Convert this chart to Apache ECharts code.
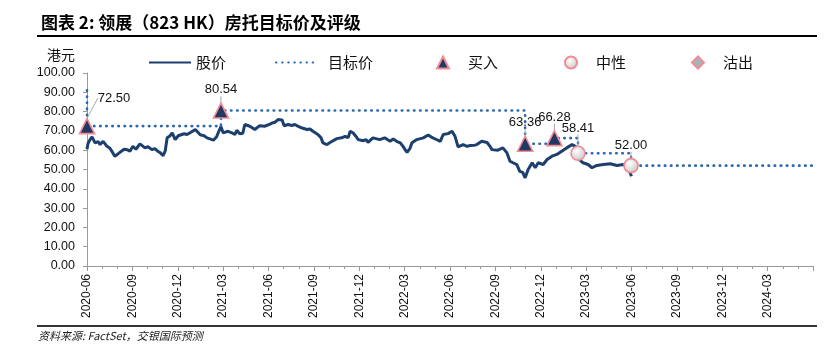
<!DOCTYPE html>
<html>
<head>
<meta charset="utf-8">
<script src="https://cdn.jsdelivr.net/npm/echarts@6/dist/echarts.min.js"></script>
<style>
html,body{margin:0;padding:0;background:#fff;}
#c{width:824px;height:355px;}
</style>
</head>
<body>
<div id="c"></div>
<script>
// ---- data ----
const tickLabels = ['2020-06','2020-09','2020-12','2021-03','2021-06','2021-09','2021-12','2022-03','2022-06','2022-09','2022-12','2023-03','2023-06','2023-09','2023-12','2024-03','2024-06'];

const priceDates = ['2020-06-01','2020-06-03','2020-06-07','2020-06-11','2020-06-17','2020-06-23','2020-06-27','2020-07-03','2020-07-11','2020-07-17','2020-07-23','2020-07-27','2020-08-03','2020-08-07','2020-08-15','2020-08-21','2020-08-27','2020-09-02','2020-09-08','2020-09-16','2020-09-26','2020-10-02','2020-10-10','2020-10-16','2020-10-22','2020-10-28','2020-11-02','2020-11-06','2020-11-10','2020-11-16','2020-11-20','2020-11-26','2020-12-02','2020-12-06','2020-12-14','2020-12-20','2020-12-28','2021-01-06','2021-01-16','2021-01-24','2021-01-30','2021-02-11','2021-02-17','2021-02-21','2021-02-25','2021-03-01','2021-03-11','2021-03-19','2021-03-25','2021-03-29','2021-04-04','2021-04-10','2021-04-14','2021-04-24','2021-05-04','2021-05-14','2021-05-24','2021-06-04','2021-06-08','2021-06-14','2021-06-20','2021-06-28','2021-07-02','2021-07-10','2021-07-18','2021-07-24','2021-07-30','2021-08-08','2021-08-18','2021-08-24','2021-08-30','2021-09-09','2021-09-15','2021-09-19','2021-09-27','2021-10-03','2021-10-07','2021-10-17','2021-10-27','2021-11-03','2021-11-09','2021-11-13','2021-11-19','2021-11-25','2021-11-29','2021-12-09','2021-12-15','2021-12-19','2021-12-29','2022-01-02','2022-01-12','2022-01-22','2022-02-02','2022-02-08','2022-02-15','2022-02-21','2022-02-26','2022-03-02','2022-03-06','2022-03-12','2022-03-16','2022-03-26','2022-04-08','2022-04-18','2022-04-26','2022-05-02','2022-05-12','2022-05-18','2022-05-28','2022-06-05','2022-06-11','2022-06-17','2022-06-27','2022-07-05','2022-07-11','2022-07-19','2022-07-25','2022-08-04','2022-08-15','2022-08-21','2022-08-25','2022-09-06','2022-09-16','2022-09-24','2022-09-30','2022-10-06','2022-10-14','2022-10-20','2022-10-26','2022-10-31','2022-11-06','2022-11-14','2022-11-20','2022-11-26','2022-12-06','2022-12-14','2022-12-24','2023-01-03','2023-01-13','2023-01-23','2023-02-03','2023-02-09','2023-02-14','2023-02-16','2023-02-23','2023-03-05','2023-03-13','2023-03-23','2023-04-05','2023-04-19','2023-05-02','2023-05-15','2023-05-25','2023-06-01'];
const priceValues = [60.5,63.5,65.5,66.9,63.8,64.5,62.9,64.6,62.0,61.0,58.6,56.9,58.2,58.9,60.5,60.3,59.5,62.0,60.5,63.3,61.2,61.8,60.3,60.8,59.5,58.5,57.2,59.5,66.4,67.5,69.0,65.5,67.5,67.2,68.5,68.1,69.3,70.7,68.0,67.5,66.4,65.2,67.0,69.8,72.2,69.0,69.8,69.0,68.1,70.3,68.5,68.8,73.3,72.4,70.7,72.7,72.4,73.5,74.1,74.5,75.9,75.6,72.7,73.3,72.8,73.3,72.5,71.5,70.7,71.0,69.8,68.1,66.5,63.8,62.9,64.0,64.6,66.0,66.4,67.2,66.5,69.8,68.9,67.0,65.5,64.9,65.5,64.1,66.4,67.2,65.5,66.4,64.6,65.8,64.5,63.8,62.0,60.3,58.9,61.0,63.8,65.5,66.4,67.9,66.5,65.8,64.6,68.1,68.6,69.8,67.2,61.7,62.9,62.0,62.4,62.5,62.9,64.6,64.0,62.0,60.3,60.0,61.2,58.6,54.3,53.5,52.5,49.0,48.5,45.7,50.0,53.5,50.9,53.5,52.6,55.2,56.9,57.8,59.5,61.2,62.9,62.0,60.7,55.2,53.5,52.6,50.9,52.1,52.6,53.0,52.1,52.6,50.9,46.5];

const targetDates = ['2020-06-01','2020-06-01','2021-02-25','2022-10-31','2022-12-29','2023-02-14','2023-05-31','2024-05-31'];
const targetValues = [91.0,72.50,80.54,63.36,66.28,58.41,52.00,52.00];

const buyDates = ['2020-06-01','2021-02-25','2022-10-31','2022-12-29'];
const buyValues = [72.50,80.54,63.36,66.28];

const neutralDates = ['2023-02-14','2023-05-31'];
const neutralValues = [58.41,52.00];

const sellDates = [];
const sellValues = [];

// ---- helpers ----
function toX(d){
  const p = d.split('-').map(Number);
  const mi = (p[0]-2020)*12 + (p[1]-6);
  const dim = new Date(p[0], p[1], 0).getDate();
  return mi + (p[2]-1)/dim;
}
function pairs(ds, vs){ return ds.map((d,i)=>[toX(d), vs[i]]); }

const FONT = 'Liberation Sans';
const CJK = 'Noto Sans CJK SC';
const pink = '#f28b93';
const navy = '#1c3f6e';
const blue = '#2a68b0';

const chart = echarts.init(document.getElementById('c'), null, {renderer:'canvas'});

const legendBase = {
  orient:'horizontal', top:50, itemHeight:12, itemWidth:12, selectedMode:false,
  textStyle:{fontFamily:CJK, fontSize:15, color:'#111'}
};

chart.setOption({
  animation:false,
  backgroundColor:'#fff',
  title:{
    text:'图表 2: 领展（823 HK）房托目标价及评级',
    left:36, top:9,
    textStyle:{fontFamily:CJK, fontSize:17, fontWeight:'bold', color:'#000'}
  },
  legend:[
    Object.assign({}, legendBase, {data:[{name:'股价', itemStyle:{opacity:0}}], left:143, itemWidth:42, itemHeight:14}),
    Object.assign({}, legendBase, {data:[{name:'目标价', itemStyle:{opacity:0}}], left:270, itemWidth:42, itemHeight:14, textStyle:{fontFamily:CJK, fontSize:15, color:'#111', padding:[0,0,0,5]}}),
    Object.assign({}, legendBase, {data:['买入'], left:431, textStyle:{fontFamily:CJK, fontSize:15, color:'#111', padding:[0,0,0,14]}}),
    Object.assign({}, legendBase, {data:['中性'], left:559, textStyle:{fontFamily:CJK, fontSize:15, color:'#111', padding:[0,0,0,14]}}),
    Object.assign({}, legendBase, {data:['沽出'], left:686, textStyle:{fontFamily:CJK, fontSize:15, color:'#111', padding:[0,0,0,14]}})
  ],
  grid:{left:87, right:11, top:73, bottom:89, containLabel:false},
  xAxis:{
    type:'value', min:0, max:48, interval:3,
    axisLine:{show:true, onZero:false, lineStyle:{color:'#9a9a9a', width:1}},
    axisTick:{show:true, length:5, lineStyle:{color:'#9a9a9a'}},
    minorTick:{show:true, splitNumber:3, length:3, lineStyle:{color:'#9a9a9a'}},
    splitLine:{show:false},
    axisLabel:{
      rotate:90, margin:8, fontFamily:FONT, fontSize:12, color:'#111',
      formatter:function(v){ return tickLabels[Math.round(v/3)] || ''; },
      showMaxLabel:false
    }
  },
  yAxis:{
    type:'value', min:0, max:100, interval:10,
    axisLine:{show:true, lineStyle:{color:'#9a9a9a', width:1}},
    axisTick:{show:true, length:4, lineStyle:{color:'#9a9a9a'}},
    splitLine:{show:false},
    axisLabel:{fontFamily:FONT, fontSize:12.5, color:'#111', margin:12,
      formatter:function(v){ return v.toFixed(2); }}
  },
  graphic:[
    {type:'line', shape:{x1:37,y1:36,x2:817,y2:36}, style:{stroke:'#000', lineWidth:2}},
    {type:'line', shape:{x1:37,y1:326,x2:817,y2:326}, style:{stroke:'#333', lineWidth:2}},
    {type:'text', left:47, top:48, style:{text:'港元', font:'14px "Noto Sans CJK SC"', fill:'#111'}},
    {type:'text', left:38, top:330, style:{text:'资料来源: FactSet，交银国际预测', font:'italic 11px "Noto Sans CJK SC"', fill:'#222'}}
  ],
  series:[
    {
      name:'股价', type:'line', data:pairs(priceDates, priceValues),
      showSymbol:false, symbol:'none', z:3,
      lineStyle:{color:navy, width:3}, itemStyle:{color:navy}
    },
    {
      name:'目标价', type:'line', step:'end', data:pairs(targetDates, targetValues),
      showSymbol:false, symbol:'none', z:2,
      lineStyle:{color:blue, width:2.6, type:[0.5,5.6], cap:'round'}, itemStyle:{color:blue}
    },
    {
      name:'买入', type:'scatter', data:pairs(buyDates, buyValues), z:5,
      symbol:'triangle', symbolSize:15,
      itemStyle:{color:'#1f3864', borderColor:pink, borderWidth:1.6, opacity:1},
      label:{show:true, position:'top', distance:6, fontFamily:FONT, fontSize:13, color:'#111',
        formatter:function(p){ return p.value[1].toFixed(2); }},
      labelLine:{show:true, lineStyle:{color:'#aaa', width:1}},
      labelLayout:function(p){ return p.dataIndex===0 ? {dx:27, dy:-7} : {}; }
    },
    {
      name:'中性', type:'scatter', data:pairs(neutralDates, neutralValues), z:5,
      symbol:'circle', symbolSize:14,
      itemStyle:{
        color:{type:'radial', x:0.4, y:0.35, r:0.7, colorStops:[{offset:0,color:'#ffffff'},{offset:1,color:'#c4c4c4'}]},
        borderColor:pink, borderWidth:1.6, opacity:1
      },
      label:{show:true, position:'top', distance:6, fontFamily:FONT, fontSize:13, color:'#111',
        formatter:function(p){ return p.value[1].toFixed(2); }},
      labelLine:{show:true, lineStyle:{color:'#aaa', width:1}},
      labelLayout:function(p){ return p.dataIndex===0 ? {dy:-5} : {}; }
    },
    {
      name:'沽出', type:'scatter', data:pairs(sellDates, sellValues), z:5,
      symbol:'diamond', symbolSize:13,
      itemStyle:{color:'#9fb7b9', borderColor:pink, borderWidth:1.6, opacity:1}
    }
  ]
});
</script>
</body>
</html>
